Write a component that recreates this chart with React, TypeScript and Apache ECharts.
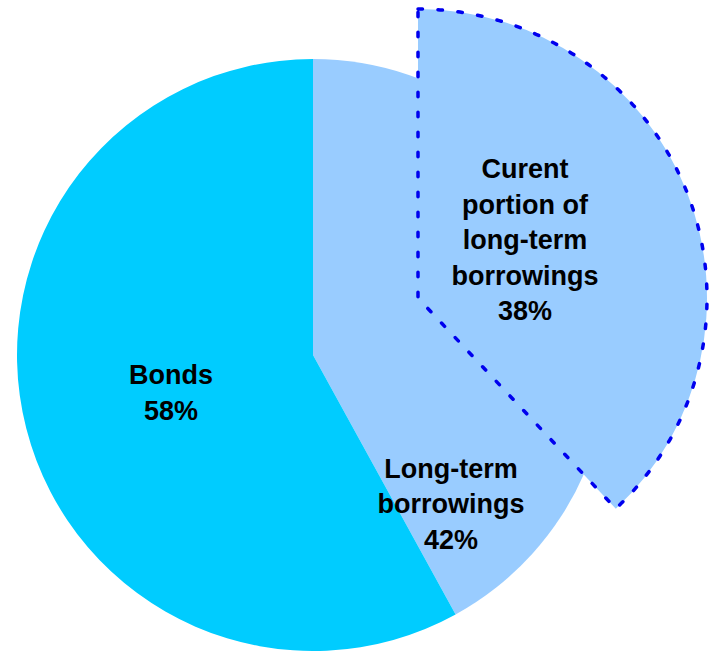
import React, { useEffect, useRef } from "react";
import * as echarts from "echarts";

// Data
const categories = ["Long-term borrowings", "Bonds"];
const categoryLabels = ["Long-term\nborrowings", "Bonds"];
const shares = [42, 58];
const subCategory = "Curent portion of long-term borrowings";
const subCategoryLabel = "Curent\nportion of\nlong-term\nborrowings";
const subShare = 38;

const COLORS = ["#99CCFF", "#00CCFF"];

export default function App() {
  const ref = useRef<HTMLDivElement>(null);

  useEffect(() => {
    if (!ref.current) return;
    const chart = echarts.init(ref.current, undefined, { renderer: "svg" });

    const labelStyle = {
      show: true,
      position: "inside",
      color: "#000",
      fontFamily: "'Liberation Sans', Arial, sans-serif",
      fontWeight: "bold",
      fontSize: 27,
      lineHeight: 35.5,
      align: "center",
    };

    const mainLabelPos = [
      { x: 451, y: 504 },
      { x: 171, y: 393 },
    ];

    chart.setOption({
      animation: false,
      backgroundColor: "#ffffff",
      series: [
        {
          type: "pie",
          center: [313, 355],
          radius: [0, 296],
          startAngle: 90,
          clockwise: true,
          avoidLabelOverlap: false,
          emphasis: { disabled: true },
          labelLine: { show: false },
          label: {
            ...labelStyle,
            formatter: (p: any) => `${categoryLabels[p.dataIndex]}\n${p.value}%`,
          },
          labelLayout: (p: any) => ({
            x: mainLabelPos[p.dataIndex].x,
            y: mainLabelPos[p.dataIndex].y,
            align: "center",
            verticalAlign: "middle",
          }),
          data: categories.map((name, i) => ({
            name,
            value: shares[i],
            itemStyle: { color: COLORS[i], borderWidth: 0 },
          })),
        },
        {
          type: "pie",
          center: [418, 298],
          radius: [0, 289],
          startAngle: 90,
          clockwise: true,
          avoidLabelOverlap: false,
          emphasis: { disabled: true },
          labelLine: { show: false },
          label: {
            ...labelStyle,
            formatter: (p: any) => `${subCategoryLabel}\n${p.value}%`,
          },
          labelLayout: (p: any) =>
            p.dataIndex === 0
              ? { x: 525, y: 240, align: "center", verticalAlign: "middle" }
              : {},
          data: [
            {
              name: subCategory,
              value: subShare,
              itemStyle: {
                color: "#99CCFF",
                borderColor: "#0000EE",
                borderWidth: 3.5,
                borderType: [4.5, 15.5],
                borderCap: "round",
              },
            },
            {
              name: "rest",
              value: 100 - subShare,
              itemStyle: { color: "rgba(0,0,0,0)", borderWidth: 0 },
              label: { show: false },
            },
          ],
        },
      ],
    });

    return () => chart.dispose();
  }, []);

  return (
    <div
      ref={ref}
      style={{ position: "fixed", left: 0, top: 0, width: 709, height: 651 }}
    />
  );
}
